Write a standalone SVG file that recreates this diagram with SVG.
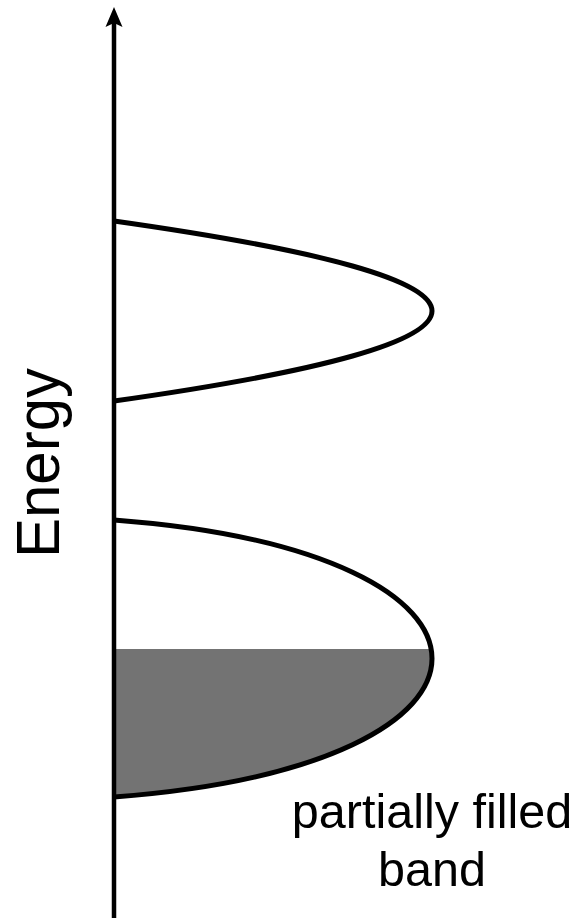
<svg xmlns="http://www.w3.org/2000/svg" width="580" height="918" viewBox="0 0 580 918">
<style>
.band{fill:none;stroke:#000;stroke-width:5}
.lbl{font-family:"Liberation Sans",Arial,sans-serif;fill:#000}
</style>
<defs>
<clipPath id="fillclip"><rect x="0" y="649" width="580" height="200"/></clipPath>
</defs>
<rect width="580" height="918" fill="#fff"/>
<g id="lower-fill">
<path d="M114,520 C538,552 538,765 114,797 Z" fill="#737373" clip-path="url(#fillclip)"/>
</g>
<g id="axis">
<line x1="114" y1="918" x2="114" y2="22" stroke="#000" stroke-width="4.5"/>
<path d="M114,7 L122.5,27 L114,23 L105.5,27 Z" fill="#000"/>
</g>
<g id="upper-band">
<path class="band" d="M114,221 Q750,311 114,401"/>
</g>
<g id="lower-band">
<path class="band" d="M114,520 C538,552 538,765 114,797"/>
</g>
<g id="energy-label">
<text class="lbl" font-size="62" text-anchor="middle" textLength="190" lengthAdjust="spacingAndGlyphs" transform="translate(58.5,463) rotate(-90)">Energy</text>
</g>
<g id="band-label">
<text class="lbl" font-size="48.5" text-anchor="middle" x="432" y="828">partially filled</text>
<text class="lbl" font-size="48.5" text-anchor="middle" x="432" y="886">band</text>
</g>
</svg>
